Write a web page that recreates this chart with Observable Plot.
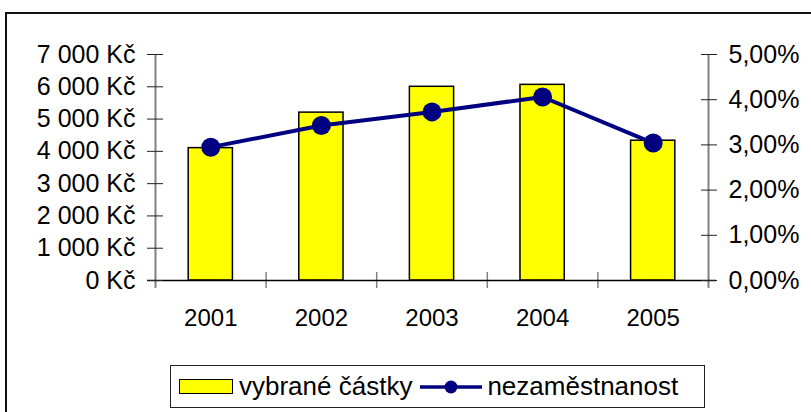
<!DOCTYPE html>
<html>
<head>
<meta charset="utf-8">
<script src="https://cdn.jsdelivr.net/npm/d3@7"></script>
<script src="https://cdn.jsdelivr.net/npm/@observablehq/plot@0.6"></script>
<style>
  html, body { margin: 0; padding: 0; background: #fff; overflow: hidden; }
  body { width: 811px; height: 412px; position: relative; font-family: "Liberation Sans", Arial, sans-serif; }
  #frame { position: absolute; left: 5px; top: 12px; width: 900px; height: 500px; border-left: 2px solid #111; border-top: 2px solid #111; box-sizing: border-box; }
  #chart { position: absolute; left: 0; top: 0; }
  #legend { position: absolute; left: 170px; top: 365px; width: 535px; height: 43px; border: 1px solid #222; box-sizing: border-box;
            display: flex; align-items: center; font-size: 26px; color: #000; padding-left: 8px; }
  .sw { width: 52px; height: 13px; background: #ffff00; border: 1.5px solid #000; margin-right: 6px; }
  .ln { margin: 0 5px 0 8px; }
</style>
</head>
<body>
<div id="frame"></div>
<div id="chart"></div>
<div id="legend"></div>
<script>
// ---- data ----
const years = [2001, 2002, 2003, 2004, 2005];
const amounts = [4100, 5200, 6000, 6060, 4330];          // vybrané částky (Kč)
const unemployment = [2.95, 3.43, 3.73, 4.06, 3.04];      // nezaměstnanost (%)
const leftTicks = [0, 1000, 2000, 3000, 4000, 5000, 6000, 7000];
const rightTicks = [0, 1, 2, 3, 4, 5];
const seriesNames = ["vybrané částky", "nezaměstnanost"];

const leftMax = leftTicks[leftTicks.length - 1];
const rightMax = rightTicks[rightTicks.length - 1];
const k = leftMax / rightMax;

const data = years.map((y, i) => ({year: y, amount: amounts[i], pct: unemployment[i]}));
const boundaries = years.slice(0, -1).map(y => y + 0.5);
const edges = [years[0] - 0.5, years[years.length - 1] + 0.5];

const kc = v => (v === 0 ? "0" : d3.format(",")(v).replace(/,/g, "\u00a0")) + "\u00a0Kč";
const pctFmt = v => (v / k).toFixed(2).replace(".", ",") + "%";

const W = 811, H = 345, mTop = 54, mBottom = 65;
const plotBottom = H - mBottom;

const chart = Plot.plot({
  width: W,
  height: H,
  marginTop: mTop,
  marginBottom: mBottom,
  marginLeft: 155,
  marginRight: 103,
  style: {fontSize: "24px", fontFamily: "'Liberation Sans', Arial, sans-serif", color: "#000", background: "transparent"},
  x: {domain: edges, axis: null},
  y: {domain: [0, leftMax], axis: null},
  marks: [
    Plot.rectY(data, {x1: d => d.year - 0.2, x2: d => d.year + 0.2, y: "amount", fill: "#ffff00", stroke: "#000", strokeWidth: 1.5}),
    // vertical axis lines
    Plot.ruleX(edges, {stroke: "#808080", strokeWidth: 2, insetBottom: -8}),
    // x category separators
    Plot.ruleX(boundaries, {stroke: "#808080", strokeWidth: 1.5, insetTop: plotBottom - 8 - mTop, insetBottom: -8}),
    // baseline
    Plot.ruleY([0], {stroke: "#000", strokeWidth: 1.5, insetLeft: -8, insetRight: -8}),
    // cross ticks
    Plot.axisY({anchor: "left", ticks: leftTicks, tickSize: 16, dx: 8, tickFormat: () => "", label: null, stroke: "#222"}),
    Plot.axisY({anchor: "right", ticks: rightTicks.map(t => t * k), tickSize: 16, dx: -8, tickFormat: () => "", label: null, stroke: "#222"}),
    // tick labels
    Plot.axisY({anchor: "left", ticks: leftTicks, tickSize: 0, tickPadding: 20, tickFormat: kc, label: null, fontSize: 25}),
    Plot.axisY({anchor: "right", ticks: rightTicks.map(t => t * k), tickSize: 0, tickPadding: 20, tickFormat: pctFmt, label: null, fontSize: 25}),
    Plot.axisX({ticks: years, tickSize: 0, tickPadding: 28, tickFormat: d => String(d), label: null, fontSize: 24}),
    // unemployment line
    Plot.line(data, {x: "year", y: d => d.pct * k, stroke: "#000080", strokeWidth: 4}),
    Plot.dot(data, {x: "year", y: d => d.pct * k, r: 9.5, fill: "#000080", stroke: "none"})
  ]
});
document.getElementById("chart").appendChild(chart);

// legend
const lg = document.getElementById("legend");
lg.innerHTML = `<div class="sw"></div><span>${seriesNames[0]}</span>
<svg class="ln" width="62" height="20"><line x1="0" y1="10" x2="62" y2="10" stroke="#000080" stroke-width="3.5"/><circle cx="31" cy="10" r="6.5" fill="#000080"/></svg><span>${seriesNames[1]}</span>`;
</script>
</body>
</html>
